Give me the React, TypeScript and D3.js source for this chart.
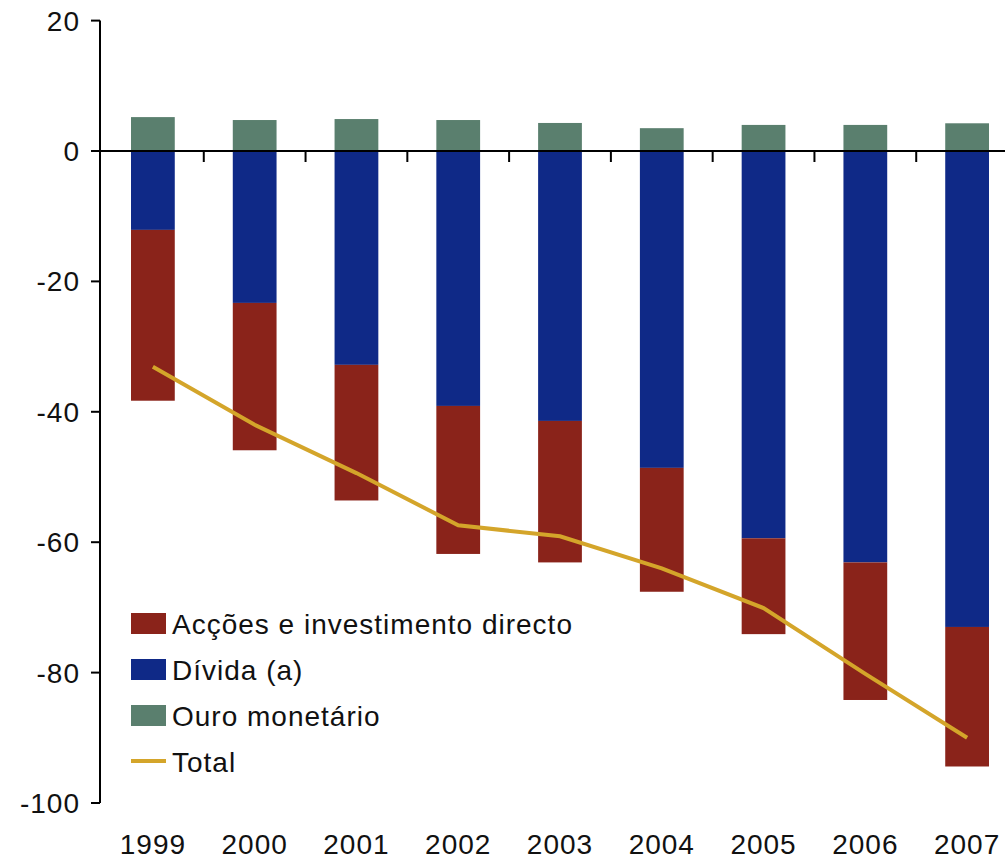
import { useEffect, useRef } from 'react';
import * as d3 from 'd3';

const years = ['1999', '2000', '2001', '2002', '2003', '2004', '2005', '2006', '2007'];
const ouro = [5.2, 4.75, 4.9, 4.75, 4.3, 3.5, 4.0, 4.0, 4.25];
const divida = [-12.1, -23.3, -32.8, -39.1, -41.4, -48.6, -59.4, -63.1, -73.0];
const accoes = [-26.2, -22.6, -20.8, -22.7, -21.7, -19.0, -14.7, -21.1, -21.4];
const total = [-33.1, -42.0, -49.4, -57.4, -59.1, -64.0, -70.1, -80.2, -90.0];
const yTicks = [20, 0, -20, -40, -60, -80, -100];

const keys = ['divida', 'accoes', 'ouro'] as const;
const colors: Record<string, string> = {
  divida: '#0f2987',
  accoes: '#8a231a',
  ouro: '#5a7f6e',
};
const legendItems = [
  { label: 'Acções e investimento directo', color: colors.accoes, kind: 'rect' },
  { label: 'Dívida (a)', color: colors.divida, kind: 'rect' },
  { label: 'Ouro monetário', color: colors.ouro, kind: 'rect' },
  { label: 'Total', color: '#d4a52a', kind: 'line' },
];

const W = 1005;
const H = 860;
const FONT = '"Liberation Sans", Arial, sans-serif';

export default function App() {
  const svgRef = useRef<SVGSVGElement>(null);

  useEffect(() => {
    document.body.style.margin = '0';
    if (!svgRef.current) return;
    const svg = d3.select(svgRef.current);
    svg.selectAll('*').remove();

    const rows = years.map((y, i) => ({ year: y, divida: divida[i], accoes: accoes[i], ouro: ouro[i] }));
    const series = d3.stack<any>().keys(keys as any).offset(d3.stackOffsetDiverging)(rows);

    const x = d3.scaleBand().domain(years).range([102, 1018]).paddingInner(0.57).paddingOuter(0.285);
    const y = d3.scaleLinear().domain([-100, 20]).range([803, 20.6]);
    const axisX = 100;

    // bars
    svg.append('g')
      .selectAll('g')
      .data(series)
      .join('g')
      .attr('fill', (s) => colors[s.key])
      .selectAll('rect')
      .data((s) => s)
      .join('rect')
      .attr('x', (d: any) => x(d.data.year)!)
      .attr('width', x.bandwidth())
      .attr('y', (d) => y(Math.max(d[0], d[1])))
      .attr('height', (d) => Math.abs(y(d[0]) - y(d[1])));

    // y axis
    svg.append('line')
      .attr('x1', axisX).attr('x2', axisX).attr('y1', y(20)).attr('y2', y(-100))
      .attr('stroke', '#000').attr('stroke-width', 2);
    const yt = svg.append('g');
    yt.selectAll('line').data(yTicks).join('line')
      .attr('x1', axisX - 9).attr('x2', axisX).attr('y1', (d) => y(d)).attr('y2', (d) => y(d))
      .attr('stroke', '#000').attr('stroke-width', 2);
    yt.selectAll('text').data(yTicks).join('text')
      .attr('x', 80).attr('y', (d) => y(d)).attr('dy', '0.36em')
      .attr('text-anchor', 'end')
      .attr('font-family', FONT).attr('font-size', 28).attr('letter-spacing', 1)
      .attr('fill', '#111')
      .text((d) => String(d));

    // x axis at zero
    svg.append('line')
      .attr('x1', axisX - 9).attr('x2', W).attr('y1', y(0)).attr('y2', y(0))
      .attr('stroke', '#000').attr('stroke-width', 2);
    const bounds = years.slice(1).map((yr) => x(yr)! - (x.step() - x.bandwidth()) / 2);
    bounds.push(x(years[years.length - 1])! + x.bandwidth() + (x.step() - x.bandwidth()) / 2);
    svg.append('g').selectAll('line').data(bounds).join('line')
      .attr('x1', (d) => d).attr('x2', (d) => d).attr('y1', y(0)).attr('y2', y(0) + 11)
      .attr('stroke', '#000').attr('stroke-width', 2);
    svg.append('g').selectAll('text').data(years).join('text')
      .attr('x', (d) => x(d)! + x.bandwidth() / 2).attr('y', 854)
      .attr('text-anchor', 'middle')
      .attr('font-family', FONT).attr('font-size', 28).attr('letter-spacing', 1)
      .attr('fill', '#111')
      .text((d) => d);

    // total line
    const line = d3.line<number>()
      .x((_, i) => x(years[i])! + x.bandwidth() / 2)
      .y((d) => y(d));
    svg.append('path')
      .datum(total)
      .attr('d', line)
      .attr('fill', 'none')
      .attr('stroke', '#d4a52a')
      .attr('stroke-width', 4);

    // legend
    const lg = svg.append('g').attr('transform', 'translate(131,624)');
    const items = lg.selectAll('g').data(legendItems).join('g')
      .attr('transform', (_, i) => `translate(0,${i * 46})`);
    items.filter((d) => d.kind === 'rect').append('rect')
      .attr('x', 0).attr('y', -11).attr('width', 35).attr('height', 21)
      .attr('fill', (d) => d.color);
    items.filter((d) => d.kind === 'line').append('line')
      .attr('x1', 0).attr('x2', 35).attr('y1', -1).attr('y2', -1)
      .attr('stroke', (d) => d.color).attr('stroke-width', 4);
    items.append('text')
      .attr('x', 41).attr('y', 0).attr('dy', '0.36em')
      .attr('font-family', FONT).attr('font-size', 28).attr('letter-spacing', 1)
      .attr('fill', '#111')
      .text((d) => d.label);
  }, []);

  return <svg ref={svgRef} width={W} height={H} style={{ display: 'block', background: '#fff' }} />;
}
